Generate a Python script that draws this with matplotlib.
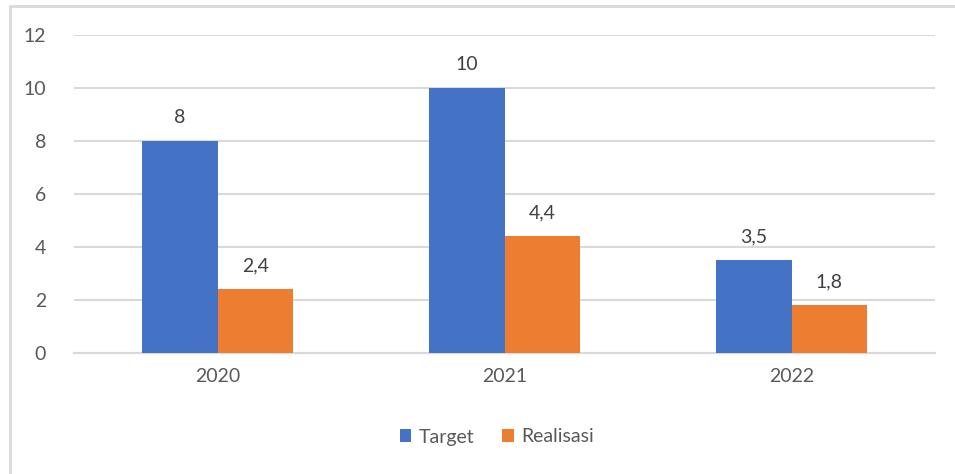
import matplotlib
matplotlib.use("Agg")
import matplotlib.pyplot as plt
import numpy as np
from matplotlib.patches import Rectangle

categories = ["2020", "2021", "2022"]
target = [8, 10, 3.5]
realisasi = [2.4, 4.4, 1.8]
series_names = ["Target", "Realisasi"]
yticks = [0, 2, 4, 6, 8, 10, 12]

plt.rcParams['font.family'] = ['Lato', 'DejaVu Sans']

W, H = 955, 474
fig = plt.figure(figsize=(W / 100, H / 100), dpi=100)
ax = fig.add_axes([74 / W, 1 - 353 / H, (935 - 74) / W, (353 - 35) / H])

x = np.arange(len(categories))
bw = 0.262
c1, c2 = "#4472C4", "#ED7D31"
b1 = ax.bar(x - bw / 2, target, bw, color=c1, label=series_names[0], zorder=3)
b2 = ax.bar(x + bw / 2, realisasi, bw, color=c2, label=series_names[1], zorder=3)

def fmt(v):
    s = ("%g" % v).replace(".", ",")
    return s

for bars, vals in ((b1, target), (b2, realisasi)):
    for rect, v in zip(bars, vals):
        ax.annotate(fmt(v), (rect.get_x() + rect.get_width() / 2, v),
                    xytext=(0, 15), textcoords="offset pixels",
                    ha="center", va="bottom", fontsize=14, color="#404040")

ax.set_xlim(-0.5, 2.5)
ax.set_ylim(0, 12)
ax.set_yticks(yticks)
ax.set_yticklabels([str(t) for t in yticks])
ax.set_xticks(x)
ax.set_xticklabels(categories)
ax.yaxis.grid(True, color="#d9d9d9", linewidth=1.5, zorder=0)
ax.set_axisbelow(True)
for s in ["left", "right", "top"]:
    ax.spines[s].set_visible(False)
ax.spines["bottom"].set_color("#d9d9d9")
ax.spines["bottom"].set_linewidth(1.5)
ax.tick_params(axis="both", length=0, labelsize=14, labelcolor="#595959")
ax.tick_params(axis="y", pad=20)
ax.tick_params(axis="x", pad=11)

leg = fig.legend(handles=[b1, b2], labels=series_names, loc="center",
                 bbox_to_anchor=(497 / W, 1 - 437 / H), ncol=2, frameon=False,
                 fontsize=14, handlelength=0.6, handleheight=0.6,
                 handletextpad=0.4, columnspacing=1.4)
for t in leg.get_texts():
    t.set_color("#595959")

fig.patches.append(Rectangle((10 / W, -0.1), 1.2, 1 - 6 / H + 0.1,
                             transform=fig.transFigure, fill=False,
                             edgecolor="#d9d9d9", linewidth=2))

fig.savefig("out.png", dpi=100, facecolor="white")
